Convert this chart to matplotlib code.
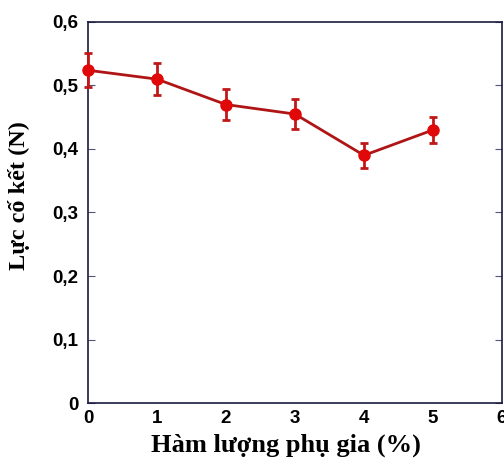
import numpy as np
import matplotlib.pyplot as plt
from matplotlib.ticker import FuncFormatter

# data
additive = [0, 1, 2, 3, 4, 5]
force = [0.524, 0.510, 0.470, 0.455, 0.390, 0.430]
err = [0.027, 0.025, 0.024, 0.023, 0.020, 0.021]

fig = plt.figure(figsize=(5.04, 4.61), dpi=100)
ax = fig.add_axes([0.1746, 0.1258, 0.8214, 0.8265])

ax.errorbar(additive, force, yerr=err, color='#b01515', lw=2,
            marker='o', ms=8, mfc='#e00808', mec='#e00808',
            ecolor='#c01818', elinewidth=2, capsize=3, capthick=2, clip_on=False, zorder=3)

ax.set_xlim(0, 6)
ax.set_ylim(0, 0.6)
ax.set_xticks(np.arange(0, 7, 1))
ax.set_yticks(np.arange(0, 0.61, 0.1))
ax.yaxis.set_major_formatter(FuncFormatter(lambda v, p: '0' if v == 0 else ('%.1f' % v).replace('.', ',')))

for s in ax.spines.values():
    s.set_color('#1a1a40')
    s.set_linewidth(1.2)

ax.tick_params(axis='y', direction='in', right=True, length=5, color='#555577', pad=7)
ax.tick_params(axis='x', length=0, pad=5)
for lab in ax.get_xticklabels() + ax.get_yticklabels():
    lab.set_fontfamily('Liberation Sans')
    lab.set_fontweight('bold')
    lab.set_fontsize(13.5)

ax.set_xlabel('Hàm lượng phụ gia (%)', family='Liberation Serif', fontweight='bold', fontsize=19, labelpad=5)
ax.xaxis.label.set_x(0.478)
ax.set_ylabel('Lực cố kết (N)', family='Liberation Serif', fontweight='bold', fontsize=17.5)
ax.yaxis.set_label_coords(-0.14, 0.545)

fig.savefig('out.png', dpi=100)
